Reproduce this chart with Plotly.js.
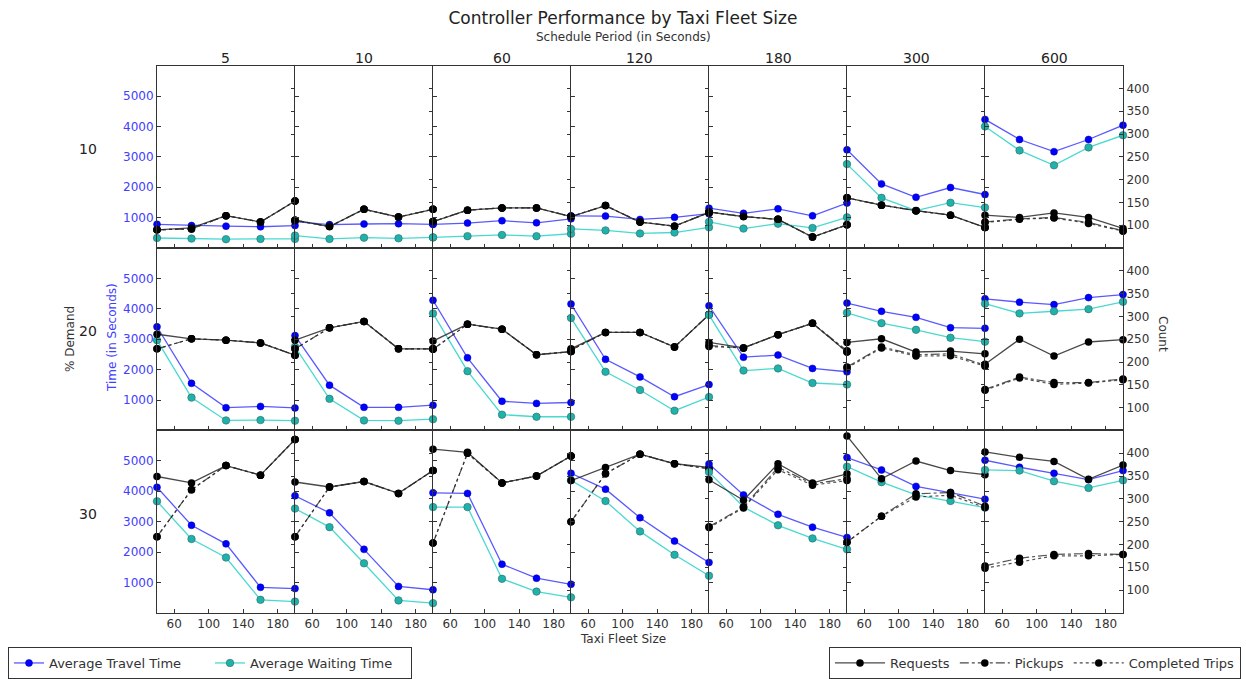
<!DOCTYPE html>
<html>
<head>
<meta charset="utf-8">
<script src="https://cdn.plot.ly/plotly-3.0.1.min.js"></script>
<style>html,body{margin:0;padding:0;background:#fff}#chart{width:1246px;height:679px}</style>
</head>
<body>
<div id="chart"></div>
<script>
// ---------- DATA ----------
const fleetSize = [40, 80, 120, 160, 200];
const schedulePeriods = ['5', '10', '60', '120', '180', '300', '600'];
const demandLevels = ['10', '20', '30'];
const timeTicks = [1000, 2000, 3000, 4000, 5000];
const countTicks = [100, 150, 200, 250, 300, 350, 400];
const fleetTicks = [60, 100, 140, 180];

// Average Travel Time (seconds), one row per schedule period
const travel10 = [[780,740,720,700,740],[870,770,790,800,780],[780,820,900,830,960],[1060,1050,940,1010,1130],[1310,1140,1290,1060,1480],[3230,2110,1670,1990,1760],[4230,3570,3170,3570,4040]];
const travel20 = [[3410,1550,750,790,740],[3120,1490,760,760,830],[4280,2390,960,890,920],[4160,2340,1760,1110,1510],[4100,2410,2480,2040,1930],[4190,3920,3720,3380,3360],[4330,4220,4140,4370,4470]];
const travel30 = [[4130,2880,2270,840,800],[3850,3290,2090,870,760],[3950,3930,1600,1140,940],[4590,4070,3130,2360,1660],[4900,3880,3240,2820,2480],[5110,4700,4160,3960,3740],[5020,4790,4590,4380,4680]];

// Average Waiting Time (seconds)
const waiting10 = [[330,310,290,300,300],[410,300,340,320,350],[350,390,430,390,470],[630,580,480,510,680],[860,640,800,660,1010],[2760,1650,1230,1490,1330],[4000,3210,2720,3310,3710]];
const waiting20 = [[2970,1080,330,340,320],[2750,1040,330,320,370],[3850,1950,520,450,450],[3700,1930,1330,650,1100],[3800,1970,2040,1560,1510],[3870,3530,3310,3050,2920],[4170,3850,3920,3990,4230]];
const waiting30 = [[3670,2430,1820,430,370],[3430,2820,1630,410,320],[3480,3480,1120,700,510],[4360,3680,2680,1910,1220],[4630,3480,2880,2450,2090],[4810,4300,3880,3680,3460],[4700,4680,4330,4110,4360]];

// Requests (count)
const requests10 = [[90,94,121,107,153],[111,97,135,118,135],[108,133,138,138,119],[119,143,107,98,128],[129,119,113,74,101],[160,144,132,122,95],[122,117,127,117,93]];
const requests20 = [[261,251,248,242,215],[248,275,289,229,229],[246,283,272,216,223],[229,265,265,233,304],[243,231,260,285,222],[243,251,222,224,218],[195,250,213,244,249]];
const requests30 = [[349,335,373,352,430],[337,326,338,312,362],[409,402,335,350,394],[340,369,398,377,369],[342,297,377,335,355],[438,344,383,362,353],[403,391,382,343,374]];

// Pickups (count)
const pickups10 = [[90,92,121,107,153],[111,97,135,118,135],[108,133,138,138,119],[119,143,107,98,128],[129,119,113,74,101],[160,144,132,122,95],[107,114,117,106,88]];
const pickups20 = [[229,251,248,242,215],[229,275,289,229,229],[228,283,272,216,223],[226,265,265,233,304],[236,231,260,285,225],[189,233,216,218,193],[140,167,155,155,163]];
const pickups30 = [[217,320,373,352,430],[217,326,338,312,362],[203,400,335,350,394],[250,355,398,377,366],[239,282,369,333,344],[205,262,311,314,284],[153,170,178,180,178]];

// Completed Trips (count)
const completed10 = [[90,92,121,107,153],[111,97,135,118,135],[108,133,138,138,119],[119,143,107,98,128],[129,119,113,74,101],[160,144,132,122,95],[106,113,116,104,87]];
const completed20 = [[229,251,248,242,215],[229,275,289,229,229],[228,283,272,216,223],[226,265,265,233,304],[234,231,260,285,222],[187,231,213,214,191],[138,165,151,154,161]];
const completed30 = [[217,320,373,352,430],[217,326,338,312,362],[203,400,335,350,394],[250,355,398,377,366],[237,280,364,330,340],[205,262,304,308,281],[148,161,175,175,178]];

const travelByDemand = [travel10, travel20, travel30];
const waitingByDemand = [waiting10, waiting20, waiting30];
const requestsByDemand = [requests10, requests20, requests30];
const pickupsByDemand = [pickups10, pickups20, pickups30];
const completedByDemand = [completed10, completed20, completed30];

// ---------- LAYOUT ----------
const W = 1246, H = 679;
const panelLeft = 157, panelW = 138;
const rowTops = [66, 249.5, 433], panelH = 183.5;
const FONT = 'DejaVu Sans, sans-serif';
const DARK = '#333333';
const BLUE_TXT = '#4040ff';
const id = n => (n === 1 ? '' : String(n));

const traces = [];
const legendFont = {family: FONT, size: 13, color: DARK};
const layout = {
  width: W, height: H,
  margin: {l: 0, r: 0, t: 0, b: 0},
  paper_bgcolor: '#ffffff', plot_bgcolor: 'rgba(0,0,0,0)',
  font: {family: FONT, size: 12, color: DARK},
  title: {text: 'Controller Performance by Taxi Fleet Size', x: 0.5, xanchor: 'center',
          y: 1 - 18 / H, yanchor: 'middle', yref: 'container', font: {family: FONT, size: 17, color: '#222'}},
  showlegend: true,
  legend: {orientation: 'h', x: 8 / W, xanchor: 'left', y: 1 - 651 / H, yanchor: 'top',
           bordercolor: DARK, borderwidth: 1, font: legendFont,
           entrywidth: 156, entrywidthmode: 'pixels', bgcolor: '#fff', tracegroupgap: 0},
  legend2: {orientation: 'h', x: 1241 / W, xanchor: 'right', y: 1 - 651 / H, yanchor: 'top',
           bordercolor: DARK, borderwidth: 1, font: legendFont, itemwidth: 50,
           bgcolor: '#fff', tracegroupgap: 0},
  annotations: [],
  hovermode: false
};

const LW = 1;
for (let r = 0; r < 3; r++) {
  for (let c = 0; c < 7; c++) {
    const k = r * 7 + c;
    const xn = k + 1, xtn = k + 22, yn = k + 1, y2n = k + 22;
    const xa = 'x' + id(xn), ya = 'y' + id(yn), yb = 'y' + id(y2n);
    const x0 = (panelLeft + panelW * c) / W, x1 = (panelLeft + panelW * (c + 1)) / W;
    const yTop = 1 - rowTops[r] / H, yBot = 1 - (rowTops[r] + panelH) / H;

    layout['xaxis' + id(xn)] = {
      domain: [x0, x1], anchor: ya, range: [40, 200], tickvals: fleetTicks,
      showticklabels: r === 2, ticks: 'inside', ticklen: 4, tickcolor: DARK,
      mirror: true, showline: true, linecolor: DARK, linewidth: LW,
      showgrid: false, zeroline: false, fixedrange: true,
      tickfont: {family: FONT, size: 12, color: DARK}
    };
    // top tick marks (pointing inward), as on the reference frame
    layout['xaxis' + id(xtn)] = {
      overlaying: xa, anchor: ya, side: 'top', range: [40, 200], tickvals: fleetTicks,
      showticklabels: false, ticks: 'inside', ticklen: 4, tickcolor: DARK,
      showline: false, showgrid: false, zeroline: false, fixedrange: true
    };
    layout['yaxis' + id(yn)] = {
      domain: [yBot, yTop], anchor: xa, range: [0, 6000], tickvals: timeTicks,
      showticklabels: c === 0, ticks: 'inside', ticklen: 4, tickcolor: DARK,
      showline: true, linecolor: DARK, linewidth: LW, showgrid: false, zeroline: false,
      fixedrange: true, tickfont: {family: FONT, size: 12, color: BLUE_TXT}
    };
    layout['yaxis' + id(y2n)] = {
      overlaying: ya, anchor: xa, side: 'right', range: [50, 450], tickvals: countTicks,
      showticklabels: c === 6, ticks: 'inside', ticklen: 4, tickcolor: DARK,
      showline: c === 6, linecolor: DARK, linewidth: LW, showgrid: false, zeroline: false,
      fixedrange: true, tickfont: {family: FONT, size: 12, color: DARK}
    };

    const first = (k === 0);
    traces.push({
      x: fleetSize, y: travelByDemand[r][c], xaxis: xa, yaxis: ya, type: 'scatter', mode: 'lines+markers',
      name: 'Average Travel Time', legend: 'legend', showlegend: first, cliponaxis: false,
      line: {color: 'rgba(0,0,255,0.65)', width: 1.3},
      marker: {color: '#0000ff', size: 7, line: {color: '#0000aa', width: 0.5}}
    });
    traces.push({
      x: fleetSize, y: waitingByDemand[r][c], xaxis: xa, yaxis: ya, type: 'scatter', mode: 'lines+markers',
      name: 'Average Waiting Time', legend: 'legend', showlegend: first, cliponaxis: false,
      line: {color: 'rgba(40,210,200,0.85)', width: 1.3},
      marker: {color: '#1fb2aa', size: 7.5, line: {color: '#336666', width: 0.6}}
    });
    traces.push({
      x: fleetSize, y: completedByDemand[r][c], xaxis: xa, yaxis: yb, type: 'scatter', mode: 'lines+markers',
      name: 'Completed Trips', legend: 'legend2', showlegend: false, cliponaxis: false,
      line: {color: 'rgba(40,40,40,0.8)', width: 1.2, dash: 'dot'},
      marker: {color: '#000', size: 7.5}
    });
    traces.push({
      x: fleetSize, y: pickupsByDemand[r][c], xaxis: xa, yaxis: yb, type: 'scatter', mode: 'lines+markers',
      name: 'Pickups', legend: 'legend2', showlegend: false, cliponaxis: false,
      line: {color: 'rgba(40,40,40,0.8)', width: 1.2, dash: 'dashdot'},
      marker: {color: '#000', size: 7.5}
    });
    traces.push({
      x: fleetSize, y: requestsByDemand[r][c], xaxis: xa, yaxis: yb, type: 'scatter', mode: 'lines+markers',
      name: 'Requests', legend: 'legend2', showlegend: false, cliponaxis: false,
      line: {color: 'rgba(40,40,40,0.85)', width: 1.3},
      marker: {color: '#000', size: 7.5}
    });

    if (r === 0) {
      layout.annotations.push({text: schedulePeriods[c], xref: 'paper', yref: 'paper',
        x: (x0 + x1) / 2, y: 1 - 58 / H, xanchor: 'center', yanchor: 'middle', showarrow: false,
        font: {family: FONT, size: 14, color: '#222'}});
    }
  }
  layout.annotations.push({text: demandLevels[r], xref: 'paper', yref: 'paper',
    x: 88 / W, y: 1 - (rowTops[r] + panelH / 2 - 8) / H, xanchor: 'center', yanchor: 'middle',
    showarrow: false, font: {family: FONT, size: 14, color: '#222'}});
}

// Legend entries for the count series, in the reference order
const legend2Order = [
  {name: 'Requests', dash: 'solid'},
  {name: 'Pickups', dash: 'dashdot'},
  {name: 'Completed Trips', dash: 'dot'}
];
legend2Order.forEach(o => traces.push({
  x: [null], y: [null], xaxis: 'x', yaxis: 'y22', type: 'scatter', mode: 'lines+markers',
  name: o.name, legend: 'legend2', showlegend: true,
  line: {color: 'rgba(40,40,40,0.85)', width: 1.3, dash: o.dash}, marker: {color: '#000', size: 7.5}
}));

layout.annotations.push(
  {text: 'Schedule Period (in Seconds)', xref: 'paper', yref: 'paper', x: 0.5, y: 1 - 37 / H,
   xanchor: 'center', yanchor: 'middle', showarrow: false, font: {family: FONT, size: 12, color: DARK}},
  {text: 'Taxi Fleet Size', xref: 'paper', yref: 'paper', x: 623 / W, y: 1 - 643 / H,
   xanchor: 'center', yanchor: 'middle', showarrow: false, font: {family: FONT, size: 12, color: DARK}},
  {text: '% Demand', xref: 'paper', yref: 'paper', x: 70 / W, y: 1 - 341 / H, textangle: -90,
   xanchor: 'center', yanchor: 'middle', showarrow: false, font: {family: FONT, size: 12, color: DARK}},
  {text: 'Time (in Seconds)', xref: 'paper', yref: 'paper', x: 112 / W, y: 1 - 340 / H, textangle: -90,
   xanchor: 'center', yanchor: 'middle', showarrow: false, font: {family: FONT, size: 12, color: BLUE_TXT}},
  {text: 'Count', xref: 'paper', yref: 'paper', x: 1163 / W, y: 1 - 336 / H, textangle: 90,
   xanchor: 'center', yanchor: 'middle', showarrow: false, font: {family: FONT, size: 12, color: DARK}}
);

Plotly.newPlot('chart', traces, layout, {displayModeBar: false, staticPlot: true});
</script>
</body>
</html>
